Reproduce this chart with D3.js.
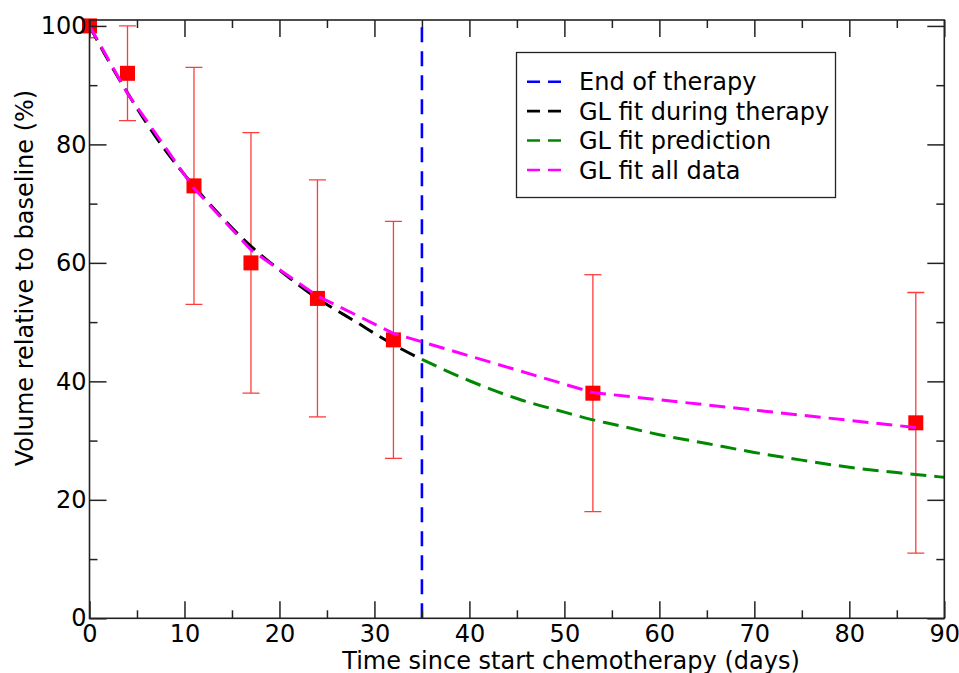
<!DOCTYPE html>
<html>
<head>
<meta charset="utf-8">
<script src="https://cdn.jsdelivr.net/npm/d3@7/dist/d3.min.js"></script>
<style>
  html, body { margin: 0; padding: 0; background: #fff; }
  svg { display: block; font-family: "DejaVu Sans", sans-serif; }
</style>
</head>
<body>
<svg id="chart" width="959" height="673"></svg>
<script>
// ---- data ----
const days      = [0, 4, 11, 17, 24, 32, 53, 87];
const volume    = [100, 92, 73, 60, 54, 47, 38, 33];
const errLow    = [98, 84, 53, 38, 34, 27, 18, 11];
const errHigh   = [102, 100, 93, 82, 74, 67, 58, 55];

const endOfTherapy = 35;

const fitDuringDays = [0, 2, 4, 6, 8, 10, 12, 14, 16, 18, 20, 22, 24, 26, 28, 30, 32, 35];
const fitDuringVol  = [100, 94.1, 88.7, 83.6, 79.0, 74.9, 71.1, 67.6, 64.3, 61.4, 58.8, 56.3, 54.0, 52.0, 50.1, 48.1, 46.2, 43.7];

const fitPredDays = [35, 40, 45, 50, 53, 55, 60, 65, 70, 75, 80, 85, 90];
const fitPredVol  = [43.7, 40.1, 37.1, 34.8, 33.5, 32.8, 31.0, 29.5, 28.0, 26.7, 25.5, 24.6, 23.8];

const fitAllDays = [0, 4, 11, 17, 24, 32, 53, 87];
const fitAllVol  = [100, 88.6, 72.6, 62.2, 54.4, 48.1, 38.1, 32.2];

const xMajorTicks = [0, 10, 20, 30, 40, 50, 60, 70, 80, 90];
const xMinorTicks = [5, 15, 25, 35, 45, 55, 65, 75, 85];
const yMajorTicks = [0, 20, 40, 60, 80, 100];
const yMinorTicks = [10, 30, 50, 70, 90];

const legendLabels = ["End of therapy", "GL fit during therapy", "GL fit prediction", "GL fit all data"];
const legendColors = ["#0000ff", "#000000", "#008800", "#ff00ff"];

// ---- layout ----
const L = 89.5, R = 944.3, T = 20, B = 618.3;
const fontSize = 24;

const svg = d3.select("#chart");
const x = d3.scaleLinear().domain([0, 90]).range([L, R]);
const y = d3.scaleLinear().domain([0, 101]).range([B, T]);

svg.append("defs").append("clipPath").attr("id", "plotclip")
  .append("rect").attr("x", L).attr("y", T).attr("width", R - L).attr("height", B - T);

const plot = svg.append("g").attr("clip-path", "url(#plotclip)");

// error bars
const ebColor = "#ff3c3c";
const capW = 8.5;
days.forEach((d, i) => {
  const g = plot.append("g").attr("stroke", ebColor).attr("stroke-width", 1.3);
  g.append("line").attr("x1", x(d)).attr("x2", x(d)).attr("y1", y(errLow[i])).attr("y2", y(errHigh[i]));
  g.append("line").attr("x1", x(d) - capW).attr("x2", x(d) + capW).attr("y1", y(errLow[i])).attr("y2", y(errLow[i]));
  g.append("line").attr("x1", x(d) - capW).attr("x2", x(d) + capW).attr("y1", y(errHigh[i])).attr("y2", y(errHigh[i]));
});

// end of therapy line
plot.append("line")
  .attr("x1", x(endOfTherapy)).attr("x2", x(endOfTherapy))
  .attr("y1", y(0)).attr("y2", y(101))
  .attr("stroke", legendColors[0]).attr("stroke-width", 2.6)
  .attr("stroke-dasharray", "15,9");

const lineSmooth = d3.line().x(d => x(d[0])).y(d => y(d[1])).curve(d3.curveMonotoneX);
const lineStraight = d3.line().x(d => x(d[0])).y(d => y(d[1]));

plot.append("path")
  .datum(fitDuringDays.map((d, i) => [d, fitDuringVol[i]]))
  .attr("d", lineSmooth).attr("fill", "none")
  .attr("stroke", legendColors[1]).attr("stroke-width", 3)
  .attr("stroke-dasharray", "16,8");

plot.append("path")
  .datum(fitPredDays.map((d, i) => [d, fitPredVol[i]]))
  .attr("d", lineSmooth).attr("fill", "none")
  .attr("stroke", legendColors[2]).attr("stroke-width", 3)
  .attr("stroke-dasharray", "16,8");

// markers (not clipped)
const ms = 15;
svg.append("g").selectAll("rect").data(days).join("rect")
  .attr("x", d => x(d) - ms / 2)
  .attr("y", (d, i) => y(volume[i]) - ms / 2)
  .attr("width", ms).attr("height", ms)
  .attr("fill", "#ff0000");

const plot2 = svg.append("g").attr("clip-path", "url(#plotclip)");
plot2.append("path")
  .datum(fitAllDays.map((d, i) => [d, fitAllVol[i]]))
  .attr("d", lineStraight).attr("fill", "none")
  .attr("stroke", legendColors[3]).attr("stroke-width", 3)
  .attr("stroke-dasharray", "16,8");

// ---- axes ----
function styleAxis(g) {
  g.select(".domain").remove();
  g.selectAll(".tick line").attr("stroke", "#222").attr("stroke-width", 1.5);
  g.selectAll(".tick text").attr("fill", "#000").attr("font-size", fontSize)
    .attr("font-family", "DejaVu Sans, sans-serif");
}

svg.append("g").attr("transform", `translate(0,${B})`)
  .call(d3.axisBottom(x).tickValues(xMajorTicks).tickSize(-17).tickPadding(7).tickFormat(d3.format("d")))
  .call(styleAxis);
svg.append("g").attr("transform", `translate(0,${B})`)
  .call(d3.axisBottom(x).tickValues(xMinorTicks).tickSize(-8).tickFormat(""))
  .call(styleAxis);
svg.append("g").attr("transform", `translate(0,${T})`)
  .call(d3.axisTop(x).tickValues(xMajorTicks).tickSize(-17).tickFormat(""))
  .call(styleAxis);
svg.append("g").attr("transform", `translate(0,${T})`)
  .call(d3.axisTop(x).tickValues(xMinorTicks).tickSize(-8).tickFormat(""))
  .call(styleAxis);

svg.append("g").attr("transform", `translate(${L},0)`)
  .call(d3.axisLeft(y).tickValues(yMajorTicks).tickSize(-17).tickPadding(3).tickFormat(d3.format("d")))
  .call(styleAxis);
svg.append("g").attr("transform", `translate(${L},0)`)
  .call(d3.axisLeft(y).tickValues(yMinorTicks).tickSize(-8).tickFormat(""))
  .call(styleAxis);
svg.append("g").attr("transform", `translate(${R},0)`)
  .call(d3.axisRight(y).tickValues(yMajorTicks).tickSize(-17).tickFormat(""))
  .call(styleAxis);
svg.append("g").attr("transform", `translate(${R},0)`)
  .call(d3.axisRight(y).tickValues(yMinorTicks).tickSize(-8).tickFormat(""))
  .call(styleAxis);

// frame
svg.append("rect").attr("x", L).attr("y", T).attr("width", R - L).attr("height", B - T)
  .attr("fill", "none").attr("stroke", "#222").attr("stroke-width", 1.6);

// axis titles
svg.append("text")
  .attr("transform", `translate(33,278) rotate(-90)`)
  .attr("text-anchor", "middle").attr("font-size", fontSize).attr("fill", "#000")
  .text("Volume relative to baseline (%)");
svg.append("text")
  .attr("x", 571).attr("y", 668.5)
  .attr("text-anchor", "middle").attr("font-size", fontSize).attr("fill", "#000")
  .text("Time since start chemotherapy (days)");

// ---- legend ----
const lg = svg.append("g");
lg.append("rect").attr("x", 516.5).attr("y", 52.5).attr("width", 319).attr("height", 145)
  .attr("fill", "#fff").attr("stroke", "#222").attr("stroke-width", 1.3);
const rowY = d3.scaleLinear().domain([0, 3]).range([81.7, 170]);
legendLabels.forEach((lab, i) => {
  lg.append("line").attr("x1", 527).attr("x2", 561).attr("y1", rowY(i)).attr("y2", rowY(i))
    .attr("stroke", legendColors[i]).attr("stroke-width", 2.6).attr("stroke-dasharray", "13,8");
  lg.append("text").attr("x", 579).attr("y", rowY(i)).attr("dy", "0.36em")
    .attr("font-size", fontSize).attr("fill", "#000").text(lab);
});
</script>
</body>
</html>
